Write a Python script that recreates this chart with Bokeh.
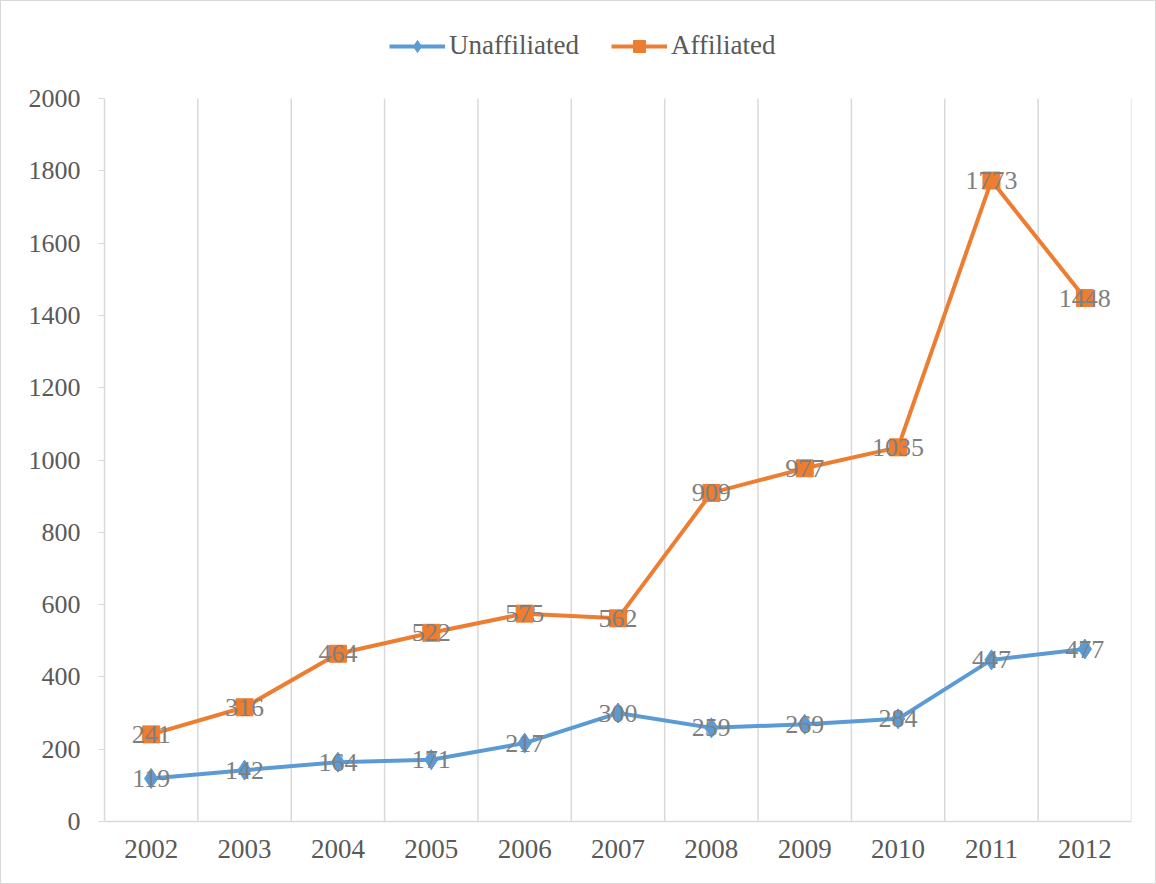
from bokeh.plotting import figure
from bokeh.models import ColumnDataSource, FixedTicker, Legend, LegendItem, Range1d
from bokeh.core.properties import value
from bokeh.embed import file_html
from bokeh.resources import INLINE

years = ["2002", "2003", "2004", "2005", "2006", "2007", "2008", "2009", "2010", "2011", "2012"]
unaffiliated = [119, 142, 164, 171, 217, 300, 259, 269, 284, 447, 477]
affiliated = [241, 316, 464, 522, 575, 562, 909, 977, 1035, 1773, 1448]
y_ticks = [0, 200, 400, 600, 800, 1000, 1200, 1400, 1600, 1800, 2000]

FONT = "Liberation Serif"
BLUE = "#5B9BD5"
ORANGE = "#ED7D31"
TXT = "#595959"
GRID = "#D9D9D9"

Y_MAX = 2000
TOP = 10          # frame top (px); legend lives above the y=2000 line inside the frame
AXIS_TOP = 97     # pixel row of y=2000
AXIS_BOTTOM = 820 # pixel row of y=0
y_end = Y_MAX * (AXIS_BOTTOM - TOP) / (AXIS_BOTTOM - AXIS_TOP)

xs = [i + 0.5 for i in range(len(years))]
src = ColumnDataSource(dict(
    x=xs,
    un=unaffiliated,
    af=affiliated,
    un_t=[str(v) for v in unaffiliated],
    af_t=[str(v) for v in affiliated],
))

p = figure(width=1156, height=884, output_backend="svg", toolbar_location=None,
           x_range=Range1d(0, len(years)), y_range=Range1d(0, y_end),
           min_border_left=103, min_border_right=26, min_border_top=TOP, min_border_bottom=64)
p.styles = {"border": "1px solid #D9D9D9", "box-sizing": "border-box"}
p.outline_line_color = None
p.background_fill_color = "white"
p.border_fill_color = "white"

# axes
p.xaxis.ticker = FixedTicker(ticks=xs)
p.xaxis.major_label_overrides = {x: y for x, y in zip(xs, years)}
p.xaxis.major_tick_out = 0
p.xaxis.major_tick_in = 0
p.xaxis.minor_tick_out = 0
p.xaxis.minor_tick_in = 0
p.xaxis.axis_line_color = GRID
p.xaxis.axis_line_width = 1.5
p.xaxis.major_label_text_font = FONT
p.xaxis.major_label_text_font_size = "27px"
p.xaxis.major_label_text_color = TXT
p.xaxis.major_label_standoff = 18

p.yaxis.ticker = FixedTicker(ticks=y_ticks)
p.yaxis.bounds = (0, Y_MAX)
p.yaxis.major_tick_out = 6
p.yaxis.major_tick_in = 0
p.yaxis.minor_tick_out = 0
p.yaxis.minor_tick_in = 0
p.yaxis.major_tick_line_color = GRID
p.yaxis.axis_line_color = GRID
p.yaxis.axis_line_width = 1.5
p.yaxis.major_label_text_font = FONT
p.yaxis.major_label_text_font_size = "26px"
p.yaxis.major_label_text_color = TXT
p.yaxis.major_label_standoff = 18

# vertical grid lines at category boundaries, only over the 0..2000 band
p.xgrid.grid_line_color = None
p.ygrid.grid_line_color = None
bounds = list(range(1, len(years) + 1))
p.segment(x0=bounds, y0=[0] * len(bounds), x1=bounds, y1=[Y_MAX] * len(bounds),
          line_color=GRID, line_width=1.5, level="underlay")

l1 = p.line("x", "un", source=src, line_color=BLUE, line_width=4)
m1 = p.scatter("x", "un", source=src, marker="diamond", size=20, fill_color=BLUE, line_color=BLUE)
l2 = p.line("x", "af", source=src, line_color=ORANGE, line_width=4)
m2 = p.scatter("x", "af", source=src, marker="square", size=17, fill_color=ORANGE, line_color=ORANGE)

for col, tcol in (("un", "un_t"), ("af", "af_t")):
    p.text("x", col, text=tcol, source=src, text_align="center", text_baseline="middle",
           text_font=value(FONT), text_font_size="26px", text_color="#7F7F7F")

legend = Legend(items=[LegendItem(label="Unaffiliated", renderers=[l1, m1]),
                       LegendItem(label="Affiliated", renderers=[l2, m2])],
                orientation="horizontal", location=(285, 760),
                label_text_font=FONT, label_text_font_size="27px", label_text_color=TXT,
                glyph_width=56, glyph_height=30, spacing=32, label_standoff=4,
                border_line_color=None, background_fill_alpha=0, padding=0, margin=0)
p.add_layout(legend, "center")

open("out.html", "w").write(file_html(p, INLINE))
